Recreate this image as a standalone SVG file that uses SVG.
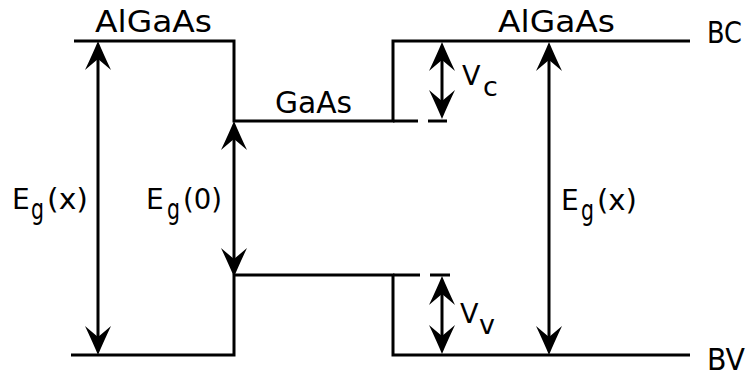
<svg xmlns="http://www.w3.org/2000/svg" xmlns:xlink="http://www.w3.org/1999/xlink" width="750" height="376" viewBox="0 0 750 376">
<style>
.band{fill:none;stroke:#000;stroke-width:3;stroke-linejoin:miter}
.dash{fill:none;stroke:#000;stroke-width:3}
.shaft{fill:none;stroke:#000;stroke-width:3}
.ah{fill:#000}
text{font-family:"DejaVu Sans","Liberation Sans",sans-serif;fill:#000}
.lbl{font-size:30px}
.eg{font-size:28px}
.v{font-size:27px}
</style>
<defs>
<path id="ah" d="M0,0 Q-5,12 -13,29 Q-6,23 0,18 Q6,23 13,29 Q5,12 0,0 Z"/>
</defs>
<rect width="750" height="376" fill="#fff"/>
<g id="bands">
<polyline class="band" points="74,41 234,41 234,121 393,121 393,41 690,41"/>
<polyline class="band" points="71,355 234,355 234,275 393,275 393,355 690,355"/>
<line class="dash" x1="393" y1="121" x2="418" y2="121"/>
<line class="dash" x1="428" y1="121" x2="447" y2="121"/>
<line class="dash" x1="393" y1="275" x2="420" y2="275"/>
<line class="dash" x1="430" y1="275" x2="450" y2="275"/>
</g>
<g id="connectors">
<g id="arrow-egx-left">
<line class="shaft" x1="98" y1="55" x2="98" y2="341"/>
<use href="#ah" class="ah" transform="translate(98,41)"/>
<use href="#ah" class="ah" transform="translate(98,355) rotate(180)"/>
</g>
<g id="arrow-eg0">
<line class="shaft" x1="234" y1="135" x2="234" y2="262"/>
<use href="#ah" class="ah" transform="translate(234,121)"/>
<use href="#ah" class="ah" transform="translate(234,277) rotate(180)"/>
</g>
<g id="arrow-vc">
<line class="shaft" x1="442" y1="56" x2="442" y2="106"/>
<use href="#ah" class="ah" transform="translate(442,42)"/>
<use href="#ah" class="ah" transform="translate(442,119) rotate(180)"/>
</g>
<g id="arrow-vv">
<line class="shaft" x1="442" y1="290" x2="442" y2="341"/>
<use href="#ah" class="ah" transform="translate(442,276)"/>
<use href="#ah" class="ah" transform="translate(442,354) rotate(180)"/>
</g>
<g id="arrow-egx-right">
<line class="shaft" x1="549" y1="56" x2="549" y2="341"/>
<use href="#ah" class="ah" transform="translate(549,42)"/>
<use href="#ah" class="ah" transform="translate(549,355) rotate(180)"/>
</g>
</g>
<g id="label-algaas-left"><text class="lbl" x="95" y="32" textLength="117" lengthAdjust="spacingAndGlyphs">AlGaAs</text></g>
<g id="label-algaas-right"><text class="lbl" x="498" y="32" textLength="117" lengthAdjust="spacingAndGlyphs">AlGaAs</text></g>
<g id="label-gaas"><text class="lbl" x="275" y="113" textLength="77" lengthAdjust="spacingAndGlyphs">GaAs</text></g>
<g id="label-bc"><text class="lbl" x="707" y="43" textLength="35" lengthAdjust="spacingAndGlyphs">BC</text></g>
<g id="label-bv"><text class="lbl" x="707" y="370" textLength="38" lengthAdjust="spacingAndGlyphs">BV</text></g>
<g id="label-egx-left">
<text class="eg" x="12" y="209">E</text>
<text class="eg" x="31" y="219" textLength="13" lengthAdjust="spacingAndGlyphs">g</text>
<text class="eg" x="47" y="209" textLength="41" lengthAdjust="spacingAndGlyphs">(x)</text>
</g>
<g id="label-eg0">
<text class="eg" x="146" y="209">E</text>
<text class="eg" x="167" y="219" textLength="13" lengthAdjust="spacingAndGlyphs">g</text>
<text class="eg" x="183" y="209" textLength="39" lengthAdjust="spacingAndGlyphs">(0)</text>
</g>
<g id="label-egx-right">
<text class="eg" x="561" y="210">E</text>
<text class="eg" x="581" y="220" textLength="13" lengthAdjust="spacingAndGlyphs">g</text>
<text class="eg" x="597" y="210" textLength="40" lengthAdjust="spacingAndGlyphs">(x)</text>
</g>
<g id="label-vc">
<text class="v" x="462" y="85">V</text>
<text class="v" x="483" y="96">c</text>
</g>
<g id="label-vv">
<text class="v" x="460" y="323">V</text>
<text class="v" x="479" y="334">v</text>
</g>
</svg>
